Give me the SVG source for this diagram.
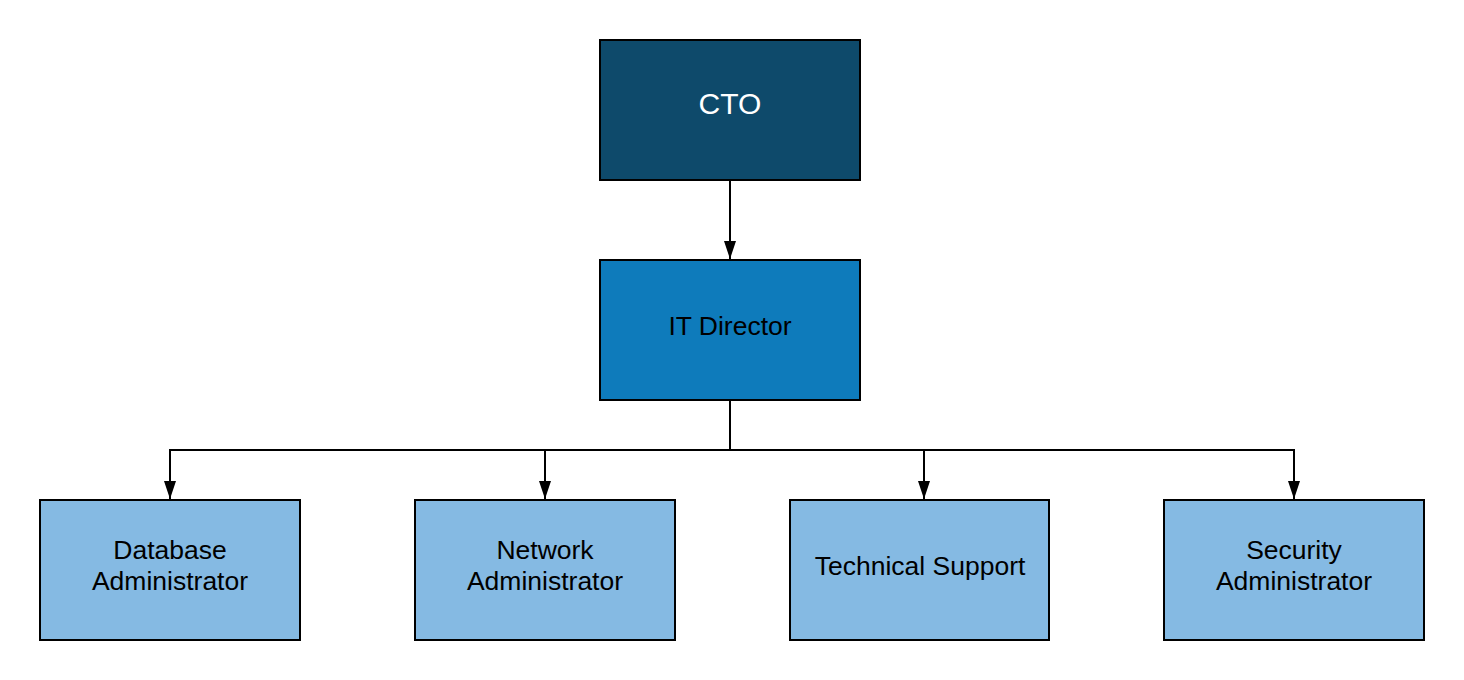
<svg xmlns="http://www.w3.org/2000/svg" width="1464" height="680" viewBox="0 0 1464 680">
<style>
.box{stroke:#000;stroke-width:2}
.cto{fill:#0e4a6b}
.dir{fill:#0e7bbb}
.staff{fill:#85bae3}
.lbl{font-family:"Liberation Sans",Arial,sans-serif;font-size:26.5px;fill:#000;text-anchor:middle}
.conn{fill:none;stroke:#000;stroke-width:2}
</style>
<defs>
<marker id="ah" markerUnits="userSpaceOnUse" markerWidth="18" markerHeight="12" viewBox="0 0 18 12" refX="18" refY="6" orient="auto">
<path d="M0,0 L18,6 L0,12 Z" fill="#000"/>
</marker>
</defs>
<rect width="1464" height="680" fill="#fff"/>
<g id="connectors">
<path class="conn" d="M730,181 V259" marker-end="url(#ah)"/>
<path class="conn" d="M730,401 V450 H170 V499" marker-end="url(#ah)"/>
<path class="conn" d="M730,450 H545 V499" marker-end="url(#ah)"/>
<path class="conn" d="M730,450 H924 V499" marker-end="url(#ah)"/>
<path class="conn" d="M730,450 H1294 V499" marker-end="url(#ah)"/>
</g>
<g id="cto">
<rect class="box cto" x="600" y="40" width="260" height="140"/>
<text class="lbl" x="730" y="114" style="fill:#fff;font-size:30px">CTO</text>
</g>
<g id="it-director">
<rect class="box dir" x="600" y="260" width="260" height="140"/>
<text class="lbl" x="730" y="335">IT Director</text>
</g>
<g id="database-administrator">
<rect class="box staff" x="40" y="500" width="260" height="140"/>
<text class="lbl" x="170" y="559">Database</text>
<text class="lbl" x="170" y="590">Administrator</text>
</g>
<g id="network-administrator">
<rect class="box staff" x="415" y="500" width="260" height="140"/>
<text class="lbl" x="545" y="559">Network</text>
<text class="lbl" x="545" y="590">Administrator</text>
</g>
<g id="technical-support">
<rect class="box staff" x="790" y="500" width="259" height="140"/>
<text class="lbl" x="920" y="575">Technical Support</text>
</g>
<g id="security-administrator">
<rect class="box staff" x="1164" y="500" width="260" height="140"/>
<text class="lbl" x="1294" y="559">Security</text>
<text class="lbl" x="1294" y="590">Administrator</text>
</g>
</svg>
